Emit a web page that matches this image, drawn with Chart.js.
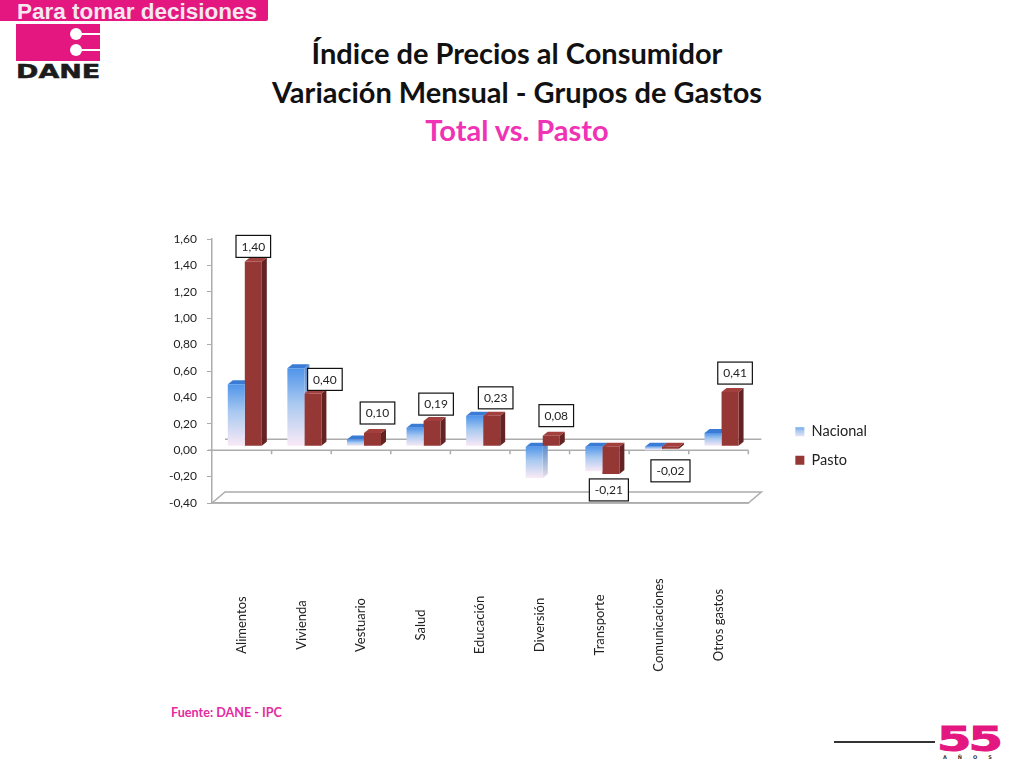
<!DOCTYPE html>
<html lang="es">
<head>
<meta charset="utf-8">
<title>Índice de Precios al Consumidor</title>
<script src="https://cdn.jsdelivr.net/npm/chart.js@4/dist/chart.umd.min.js"></script>
<style>
  html, body { margin: 0; padding: 0; background: #fff; width: 1024px; height: 768px; overflow: hidden; }
  body { position: relative; font-family: Lato, sans-serif; }
  canvas { position: absolute; left: 0; top: 0; }
  .abs { position: absolute; }
  #banner { left: 0; top: 0; width: 268px; height: 21px; background: #e3177f; border-radius: 0 0 2px 0; }
  #banner span { position: absolute; left: 17px; top: 0; color: #f6e6ee; font: bold 22.5px/24px "Liberation Sans", sans-serif; white-space: nowrap; }
  #logo { left: 16px; top: 24px; width: 84px; height: 37px; background: #e3177f; }
  #logo i { position: absolute; background: #fff; }
  #dane { left: 16px; top: 62px; font: bold 19px/18px "DejaVu Sans", sans-serif; color: #1c1c1c; transform-origin: left top; transform: scaleX(1.42); -webkit-text-stroke: 0.5px #1c1c1c; }
  #title { left: 0; top: 34px; width: 1034px; text-align: center; font-weight: 700; font-size: 29px; line-height: 38.5px; color: #111; }
  #title span { color: #f032b4; }
  #source { left: 171px; top: 705px; font-weight: 700; font-size: 12.6px; line-height: 15px; color: #e52aa0; }
  #rule { left: 834px; top: 741px; width: 101px; height: 2px; background: #333; }
  #fifty { left: 937px; top: 722px; font: bold 33px/36px "DejaVu Sans", sans-serif; color: #e3177f; transform-origin: left top; transform: scaleX(1.5); letter-spacing: -2px; -webkit-text-stroke: 1px #e3177f; }
  #anos { left: 943px; top: 753px; font: bold 5px/8px "DejaVu Sans", sans-serif; color: #333; letter-spacing: 11px; white-space: nowrap; }
</style>
</head>
<body>
<div class="abs" id="banner"><span>Para tomar decisiones</span></div>
<div class="abs" id="logo">
  <i style="left:54px;top:4px;width:12px;height:12px;border-radius:50%"></i>
  <i style="left:54px;top:20px;width:12px;height:12px;border-radius:50%"></i>
  <i style="left:60px;top:9px;width:24px;height:2px"></i>
  <i style="left:60px;top:25px;width:24px;height:2px"></i>
</div>
<div class="abs" id="dane">DANE</div>
<div class="abs" id="title">Índice de Precios al Consumidor<br>Variación Mensual - Grupos de Gastos<br><span>Total vs. Pasto</span></div>
<div class="abs" id="source">Fuente: DANE - IPC</div>
<div class="abs" id="rule"></div>
<div class="abs" id="fifty">55</div>
<div class="abs" id="anos">AÑOS</div>
<canvas id="chart" width="1024" height="768"></canvas>

<script>
const categories = ['Alimentos', 'Vivienda', 'Vestuario', 'Salud', 'Educación', 'Diversión', 'Transporte', 'Comunicaciones', 'Otros gastos']
const nacional = [0.47, 0.59, 0.05, 0.14, 0.23, -0.24, -0.19, -0.03, 0.10]
const pasto = [1.40, 0.40, 0.10, 0.19, 0.23, 0.08, -0.21, -0.02, 0.41]

// Value boxes on Pasto: sideways shift and gap from the end of the bar
const boxNudge = [[0, 4], [12, 3], [5, 9], [4, 6], [4, 7], [5, 9], [-2, 5], [0, 11], [5, 8]]

// Fake 3D: bars sit a little up and right of the axis, with a side and top face
const shift = { x: 3, y: -4 }
const depth = { x: 5, y: -4 }
const floor = { x: 13, y: -11 }
const axisGrey = '#acacac'
const fontFamily = 'Lato, sans-serif'

const comma = v => v.toFixed(2).replace('.', ',')

function nacionalGradient(ctx, top, bottom) {
  const g = ctx.createLinearGradient(0, top, 0, bottom)
  g.addColorStop(0, '#4f94ea')
  g.addColorStop(0.45, '#a9c9f0')
  g.addColorStop(1, '#faeaf6')
  return g
}

const faces = [
  { top: '#3a7bd6', side: null },
  { top: '#a33f3c', side: '#632322' }
]

function drawFaces(ctx, meta, index) {
  ctx.save()
  ctx.translate(shift.x, shift.y)
  meta.data.forEach(bar => {
    const l = bar.x - bar.width / 2
    const r = bar.x + bar.width / 2
    const t = Math.min(bar.y, bar.base)
    const b = Math.max(bar.y, bar.base)
    if (faces[index].side) {
      ctx.fillStyle = faces[index].side
    } else {
      const g = ctx.createLinearGradient(0, t, 0, b)
      g.addColorStop(0, '#5f8fcb')
      g.addColorStop(1, '#e6e0ea')
      ctx.fillStyle = g
    }
    ctx.beginPath()
    ctx.moveTo(r, t)
    ctx.lineTo(r + depth.x, t + depth.y)
    ctx.lineTo(r + depth.x, b + depth.y)
    ctx.lineTo(r, b)
    ctx.closePath()
    ctx.fill()
    ctx.fillStyle = faces[index].top
    ctx.beginPath()
    ctx.moveTo(l, t)
    ctx.lineTo(l + depth.x, t + depth.y)
    ctx.lineTo(r + depth.x, t + depth.y)
    ctx.lineTo(r, t)
    ctx.closePath()
    ctx.fill()
  })
  ctx.restore()
}

const backdrop = {
  id: 'backdrop',
  beforeDatasetsDraw(chart) {
    const { ctx, scales: { x, y } } = chart
    const zero = y.getPixelForValue(0)
    const low = y.getPixelForValue(-0.4)
    ctx.save()
    ctx.strokeStyle = axisGrey
    ctx.lineWidth = 1.5
    ctx.beginPath()
    // back wall at zero
    ctx.moveTo(x.left + floor.x, zero + floor.y)
    ctx.lineTo(x.right + floor.x, zero + floor.y)
    // zero axis
    ctx.moveTo(x.left - 4, zero)
    ctx.lineTo(x.right, zero)
    // floor
    ctx.moveTo(x.left, low)
    ctx.lineTo(x.left + floor.x, low + floor.y)
    ctx.lineTo(x.right + floor.x, low + floor.y)
    ctx.lineTo(x.right, low)
    ctx.closePath()
    // category ticks
    const step = (x.right - x.left) / categories.length
    categories.forEach((c, i) => {
      const px = x.left + step * (i + 1)
      ctx.moveTo(px, zero)
      ctx.lineTo(px, zero + 4)
    })
    ctx.stroke()
    ctx.restore()
    // Chart.js paints the last dataset first, so the Nacional faces go in
    // here, underneath Pasto
    drawFaces(ctx, chart.getDatasetMeta(0), 0)
  },
  beforeDatasetDraw(chart, { index, meta }) {
    if (index === 1) drawFaces(chart.ctx, meta, 1)
    chart.ctx.save()
    chart.ctx.translate(shift.x, shift.y)
  },
  afterDatasetDraw(chart) {
    chart.ctx.restore()
  },
  afterDatasetsDraw(chart) {
    const { ctx, scales: { x } } = chart
    const bars = chart.getDatasetMeta(1).data
    ctx.save()
    ctx.font = '12px ' + fontFamily
    ctx.textAlign = 'center'
    ctx.textBaseline = 'middle'
    bars.forEach((bar, i) => {
      const text = comma(pasto[i])
      const w = ctx.measureText(text).width + 11
      const h = 22
      const cx = bar.x + shift.x + boxNudge[i][0]
      const end = bar.y + shift.y
      const top = pasto[i] < 0 ? end + boxNudge[i][1] : end - boxNudge[i][1] - h
      ctx.fillStyle = '#fff'
      ctx.fillRect(cx - w / 2, top, w, h)
      ctx.strokeStyle = '#111'
      ctx.lineWidth = 1.2
      ctx.strokeRect(cx - w / 2, top, w, h)
      ctx.fillStyle = '#222'
      ctx.fillText(text, cx, top + h / 2 + 0.5)
    })

    // Category names run upright, centred on one line below the plot
    ctx.font = '13px ' + fontFamily
    ctx.fillStyle = '#222'
    categories.forEach((c, i) => {
      ctx.save()
      ctx.translate(x.getPixelForValue(i), chart.chartArea.bottom + 122)
      ctx.rotate(-Math.PI / 2)
      ctx.fillText(c, 0, 0)
      ctx.restore()
    })
    ctx.restore()
  }
}

new Chart(document.getElementById('chart'), {
  type: 'bar',
  plugins: [backdrop],
  data: {
    labels: categories,
    datasets: [
      {
        label: 'Nacional',
        data: nacional,
        backgroundColor(c) {
          const ctx = c.chart.ctx
          const y = c.chart.scales.y
          const a = y ? y.getPixelForValue(nacional[c.dataIndex]) : NaN
          const b = y ? y.getPixelForValue(0) : NaN
          // scales have no size yet on the first pass
          if (!isFinite(a) || !isFinite(b)) return '#7fb3ee'
          return nacionalGradient(ctx, Math.min(a, b), Math.max(a, b))
        }
      },
      {
        label: 'Pasto',
        data: pasto,
        backgroundColor: '#953735'
      }
    ]
  },
  options: {
    responsive: false,
    animation: false,
    events: [],
    categoryPercentage: 0.571,
    barPercentage: 1,
    layout: { padding: { left: 160, top: 239, right: 147, bottom: 115 } },
    scales: {
      x: {
        grid: { display: false },
        border: { color: axisGrey, width: 1.5 },
        ticks: { display: false },
        afterFit(scale) { scale.height = 150 }
      },
      y: {
        min: -0.4,
        max: 1.6,
        grid: { drawOnChartArea: false, color: axisGrey, tickLength: 5 },
        border: { color: axisGrey, width: 1.5 },
        ticks: {
          stepSize: 0.2,
          padding: 10,
          color: '#222',
          font: { family: fontFamily, size: 12 },
          callback: v => comma(v)
        },
        afterFit(scale) { scale.width = 52 }
      },
      // empty axis, only keeps the legend away from the plot
      gap: {
        position: 'right',
        grid: { display: false },
        border: { display: false },
        ticks: { display: false },
        afterFit(scale) { scale.width = 33 }
      }
    },
    plugins: {
      tooltip: { enabled: false },
      legend: {
        position: 'right',
        labels: {
          boxWidth: 9,
          boxHeight: 9,
          padding: 14,
          color: '#222',
          font: { family: fontFamily, size: 14.5 },
          // bars have no dataset-level style, the swatch would copy the first bar
          generateLabels(chart) {
            const items = Chart.defaults.plugins.legend.labels.generateLabels(chart)
            items[0].fillStyle = nacionalGradient(chart.ctx, 425, 438)
            return items
          }
        }
      }
    }
  }
})
</script>
</body>
</html>
